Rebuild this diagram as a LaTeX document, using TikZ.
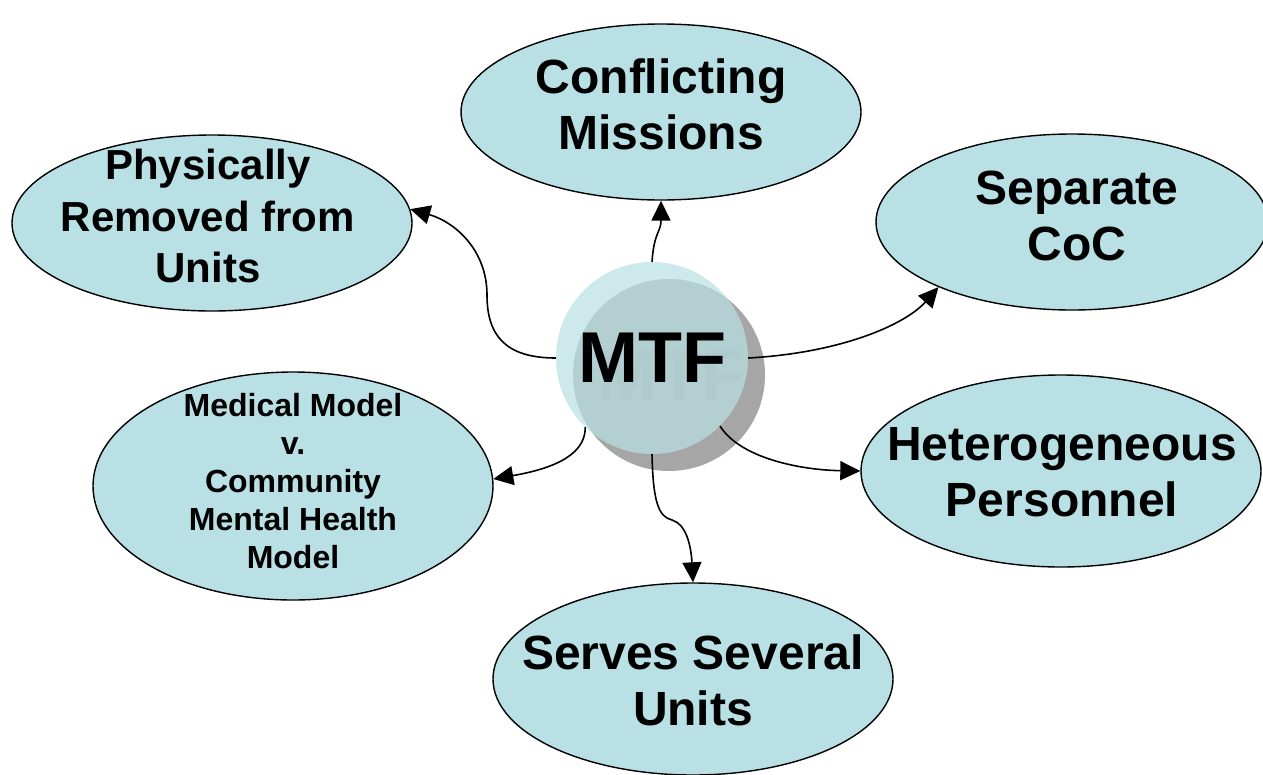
\documentclass[tikz,border=0pt]{standalone}
\usepackage{fontspec}
\setmainfont{Liberation Sans}
\usetikzlibrary{arrows.meta,shapes.geometric}
\definecolor{bubblefill}{HTML}{B9E0E4}
\definecolor{shadowgray}{HTML}{A6A6A6}
\definecolor{ghostgray}{HTML}{9A9A9A}
\tikzset{
  bubble/.style={ellipse, draw=black, line width=1.4pt, fill=bubblefill, inner sep=0pt},
  biglbl/.style={align=center, font=\fontsize{48}{56}\selectfont\bfseries, inner sep=0pt},
  smalllbl/.style={align=center, font=\fontsize{32}{38}\selectfont\bfseries, inner sep=0pt},
  conn/.style={line width=1.6pt, -{Triangle[length=20pt,width=19pt]}},
}
\begin{document}
\begin{tikzpicture}[x=1pt,y=-1pt]
\useasboundingbox (0,0) rectangle (1263,774);
% outer bubbles
\node[bubble, minimum width=400pt, minimum height=176pt] (cm) at (661,112) {};
\node[biglbl] (cmt) at (661,104) {Conflicting\\Missions};
\node[bubble, minimum width=400pt, minimum height=176pt] (pr) at (212,223) {};
\node[biglbl, font=\fontsize{42}{51.5}\selectfont\bfseries] (prt) at (208,216) {Physically\\Removed from\\Units};
\node[bubble, minimum width=392pt, minimum height=176pt] (sc) at (1072,222) {};
\node[biglbl] (sct) at (1077,216) {Separate\\CoC};
\node[bubble, minimum width=400pt, minimum height=228pt] (mm) at (293,486) {};
\node[smalllbl] (mmt) at (293,481) {Medical Model\\v.\\Community\\Mental Health\\Model};
\node[bubble, minimum width=400pt, minimum height=192pt] (hp) at (1061,471) {};
\node[biglbl] (hpt) at (1062,472) {Heterogeneous\\Personnel};
\node[bubble, minimum width=400pt, minimum height=192pt] (ss) at (693,679) {};
\node[biglbl] (sst) at (693,680) {Serves Several\\Units};
% central MTF
\node[circle, fill=shadowgray, minimum size=192pt, inner sep=0pt] (mtfsh) at (669,375) {};
\node[text=ghostgray, font=\fontsize{72}{72}\selectfont\bfseries, inner sep=0pt] (mtfghost) at (671,376) {MTF};
\node[circle, fill=bubblefill, fill opacity=0.71, text opacity=1, minimum size=192pt, inner sep=0pt,
      font=\fontsize{72}{72}\selectfont\bfseries] (mtf) at (652,358) {MTF};
% connectors
\draw[conn] (mtf.90) .. controls (654,232) and (661,232) .. (cm.south);
\draw[conn] (mtf.west) .. controls (505,358) and (487,335) .. (487,295)
            .. controls (487,250) and (455,222) .. (pr.4);
\draw[conn] (mtf.east) .. controls (840,353) and (905,325) .. (sc.206);
\draw[conn] (mtf.-134) .. controls (586,458) and (545,470) .. (mm.2);
\draw[conn] (mtf.-45) .. controls (740,458) and (800,470) .. (hp.west);
\draw[conn] (mtf.south) .. controls (653,500) and (658,517) .. (672,520)
            .. controls (686,524) and (691,545) .. (ss.north);
\end{tikzpicture}
\end{document}
